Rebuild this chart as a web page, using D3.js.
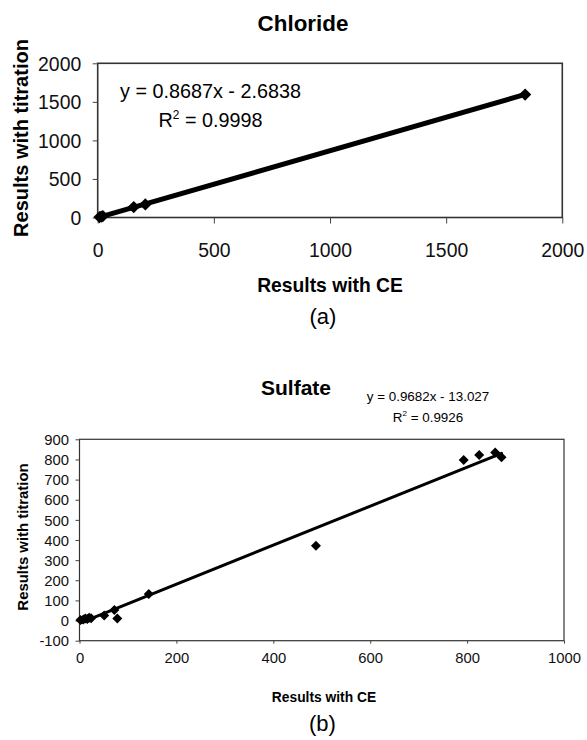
<!DOCTYPE html>
<html>
<head>
<meta charset="utf-8">
<script src="https://cdn.jsdelivr.net/npm/d3@7"></script>
<style>
  html, body { margin: 0; padding: 0; background: #fff; }
  svg { display: block; font-family: "Liberation Sans", Arial, sans-serif; }
</style>
</head>
<body>
<svg id="chart" width="587" height="740"></svg>
<script>
// Chloride: CE result vs titration result
const chlorideCE        = [8, 15, 22, 155, 205, 1840];
const chlorideTitration = [5, 12, 18, 135, 170, 1595];
const chlorideFit = { slope: 0.8687, intercept: -2.6838, r2: "0.9998" };
const chlorideTicks = [0, 500, 1000, 1500, 2000];

// Sulfate: CE result vs titration result
const sulfateCE        = [2, 8, 12, 16, 20, 24, 51, 72, 78, 143, 488, 793, 825, 858, 871];
const sulfateTitration = [3, 5, 10, 8, 14, 12, 25, 53, 10, 132, 372, 797, 822, 834, 811];
const sulfateFit = { slope: 0.9682, intercept: -13.027, r2: "0.9926" };
const sulfateXTicks = [0, 200, 400, 600, 800, 1000];
const sulfateYTicks = [-100, 0, 100, 200, 300, 400, 500, 600, 700, 800, 900];

const svg = d3.select("#chart");

function panel(cfg) {
  const g = svg.append("g");
  const x = d3.scaleLinear().domain(cfg.xDomain).range(cfg.xRange);
  const y = d3.scaleLinear().domain(cfg.yDomain).range(cfg.yRange);

  // plot frame
  g.append("rect")
    .attr("x", cfg.xRange[0]).attr("y", cfg.yRange[1])
    .attr("width", cfg.xRange[1] - cfg.xRange[0])
    .attr("height", cfg.yRange[0] - cfg.yRange[1])
    .attr("fill", "none").attr("stroke", "#333").attr("stroke-width", cfg.frameWidth);

  // x axis
  const xa = g.append("g")
    .attr("transform", `translate(0,${cfg.yRange[0]})`)
    .call(d3.axisBottom(x).tickValues(cfg.xTicks).tickSize(cfg.xTickSize).tickFormat(d3.format("d")));
  xa.select(".domain").remove();
  xa.selectAll("line").attr("stroke", "#444").attr("stroke-width", 1);
  xa.selectAll("text").attr("dy", null).attr("y", cfg.xLabelBase)
    .attr("font-size", cfg.tickFont).attr("fill", "#111")
    .attr("font-family", "Liberation Sans, Arial, sans-serif");

  // y axis
  const ya = g.append("g")
    .attr("transform", `translate(${cfg.xRange[0]},0)`)
    .call(d3.axisLeft(y).tickValues(cfg.yTicks).tickSize(cfg.yTickSize).tickFormat(d3.format("d")));
  ya.select(".domain").remove();
  ya.selectAll("line").attr("stroke", "#444").attr("stroke-width", 1);
  ya.selectAll("text").attr("x", cfg.yLabelX).attr("dy", "0.35em")
    .attr("font-size", cfg.tickFont).attr("fill", "#111")
    .attr("font-family", "Liberation Sans, Arial, sans-serif")
    .text(d => d < 0 ? "-" + Math.abs(d) : d);

  // linear trend line over the data range
  const xs = cfg.xData;
  const x0 = d3.min(xs), x1 = d3.max(xs);
  g.append("line")
    .attr("x1", x(x0)).attr("y1", y(cfg.fit.slope * x0 + cfg.fit.intercept))
    .attr("x2", x(x1)).attr("y2", y(cfg.fit.slope * x1 + cfg.fit.intercept))
    .attr("stroke", "#000").attr("stroke-width", cfg.lineWidth).attr("stroke-linecap", "round");

  // diamond markers
  const sym = d3.symbol(d3.symbolSquare, cfg.markerArea);
  g.selectAll("path.pt").data(xs.map((v, i) => [v, cfg.yData[i]]))
    .join("path").attr("class", "pt")
    .attr("d", sym())
    .attr("transform", d => `translate(${x(d[0])},${y(d[1])}) rotate(45)`)
    .attr("fill", "#000");

  // titles
  g.append("text").attr("x", cfg.title.x).attr("y", cfg.title.y)
    .attr("text-anchor", "middle").attr("font-weight", "bold")
    .attr("font-size", cfg.title.size).text(cfg.title.text);
  g.append("text").attr("x", cfg.xTitle.x).attr("y", cfg.xTitle.y)
    .attr("text-anchor", "middle").attr("font-weight", "bold")
    .attr("font-size", cfg.xTitle.size).text("Results with CE");
  g.append("text")
    .attr("transform", `translate(${cfg.yTitle.x},${cfg.yTitle.y}) rotate(-90)`)
    .attr("text-anchor", "middle").attr("font-weight", "bold")
    .attr("font-size", cfg.yTitle.size).text("Results with titration");

  // regression equation
  const sign = cfg.fit.intercept < 0 ? "-" : "+";
  g.append("text").attr("x", cfg.eq.x).attr("y", cfg.eq.y1)
    .attr("text-anchor", "middle").attr("font-size", cfg.eq.size)
    .text(`y = ${cfg.fit.slope}x ${sign} ${Math.abs(cfg.fit.intercept)}`);
  const r = g.append("text").attr("x", cfg.eq.x).attr("y", cfg.eq.y2)
    .attr("text-anchor", "middle").attr("font-size", cfg.eq.size);
  r.append("tspan").text("R");
  r.append("tspan").attr("font-size", cfg.eq.size * 0.6).attr("dy", -cfg.eq.size * 0.4).text("2");
  r.append("tspan").attr("dy", cfg.eq.size * 0.4).text(` = ${cfg.fit.r2}`);

  // panel label
  g.append("text").attr("x", cfg.label.x).attr("y", cfg.label.y)
    .attr("text-anchor", "middle").attr("font-size", 22).text(cfg.label.text);
}

panel({
  xDomain: [0, 2000], xRange: [97.7, 562.3],
  yDomain: [0, 2000], yRange: [217.5, 63.3],
  xTicks: chlorideTicks, yTicks: chlorideTicks,
  xTickSize: 6, yTickSize: 5, xLabelBase: 39.4, yLabelX: -16.5,
  tickFont: 19.4, frameWidth: 1.6,
  xData: chlorideCE, yData: chlorideTitration, fit: chlorideFit,
  lineWidth: 5, markerArea: 75,
  title: { text: "Chloride", x: 303, y: 31, size: 22.4 },
  xTitle: { x: 330, y: 292, size: 19.3 },
  yTitle: { x: 28, y: 138, size: 20 },
  eq: { x: 210.5, y1: 98, y2: 127, size: 19.8 },
  label: { x: 323, y: 324, text: "(a)" }
});

panel({
  xDomain: [0, 1000], xRange: [79.5, 564],
  yDomain: [-100, 900], yRange: [640.7, 439.3],
  xTicks: sulfateXTicks, yTicks: sulfateYTicks,
  xTickSize: 3, yTickSize: 4, xLabelBase: 22.8, yLabelX: -10.5,
  tickFont: 14.8, frameWidth: 1.2,
  xData: sulfateCE, yData: sulfateTitration, fit: sulfateFit,
  lineWidth: 3, markerArea: 50,
  title: { text: "Sulfate", x: 296, y: 395, size: 21 },
  xTitle: { x: 324, y: 702, size: 13.8 },
  yTitle: { x: 28, y: 537, size: 14.9 },
  eq: { x: 428, y1: 401, y2: 421.5, size: 13.4 },
  label: { x: 322.5, y: 731, text: "(b)" }
});
</script>
</body>
</html>
